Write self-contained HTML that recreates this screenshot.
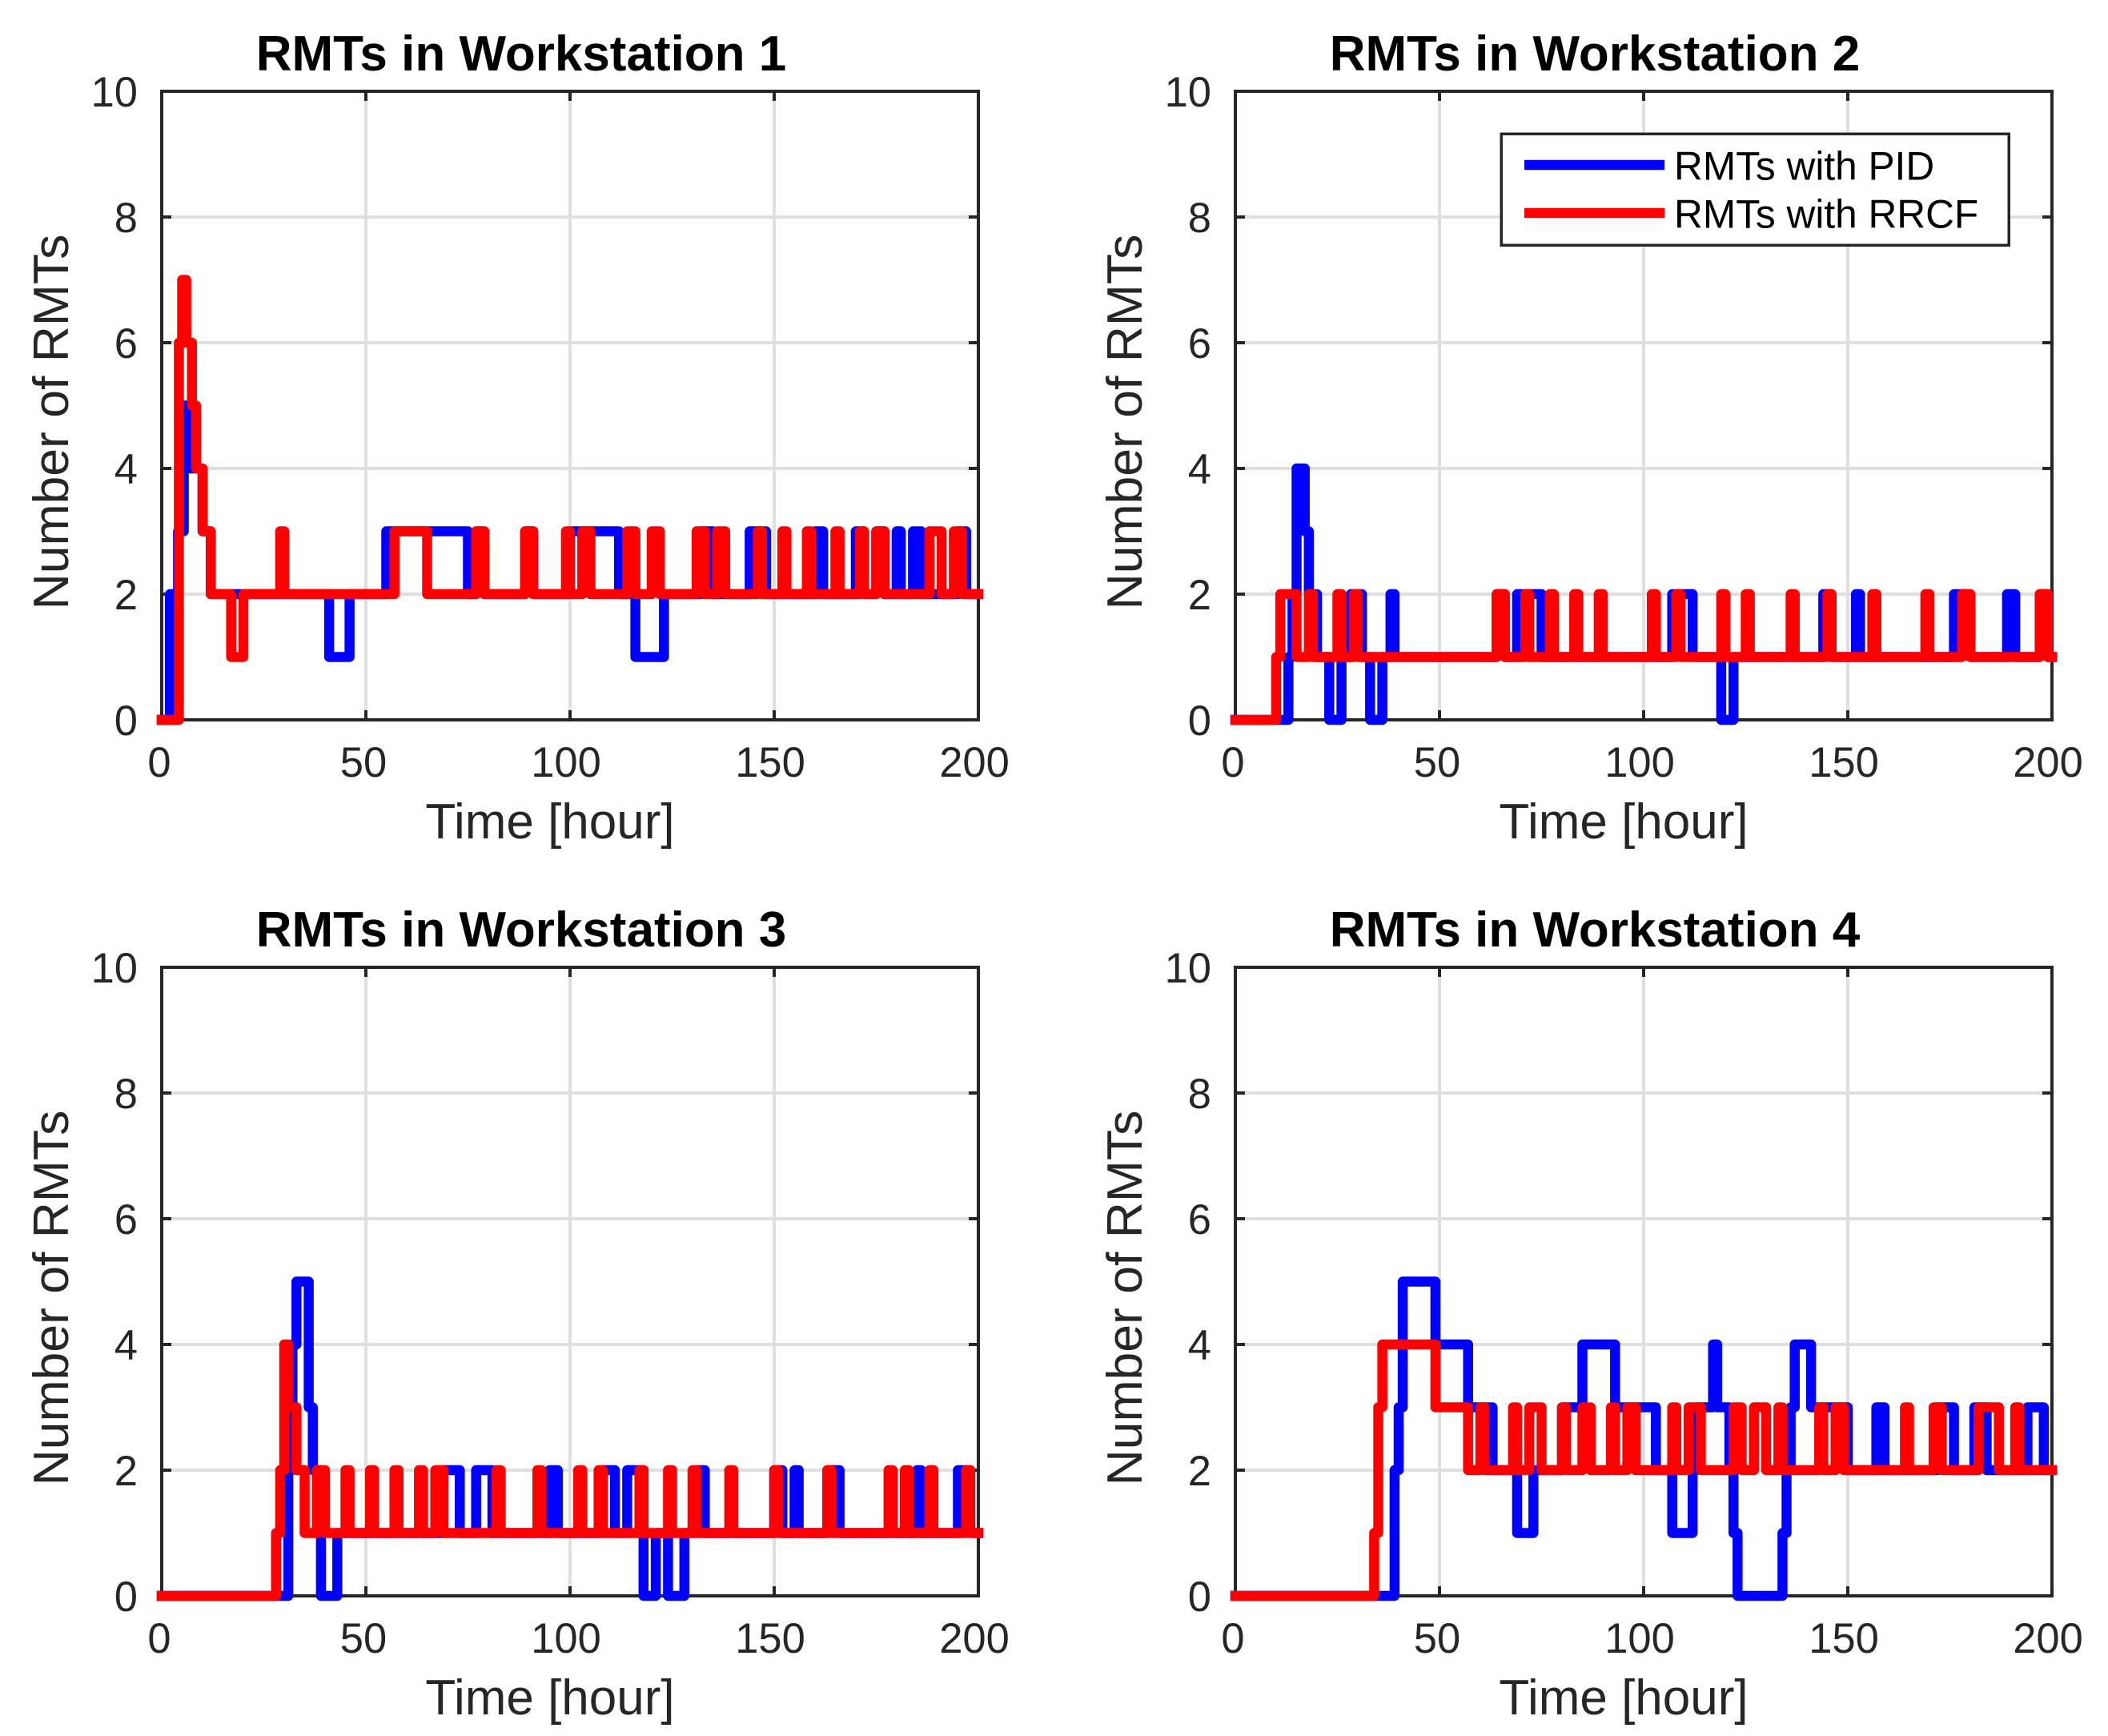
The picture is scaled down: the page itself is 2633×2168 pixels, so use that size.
<!DOCTYPE html>
<html lang="en">
<head>
<meta charset="utf-8">
<title>RMTs in Workstations</title>
<style>
html,body{margin:0;padding:0;background:#fff;}
svg{display:block;font-family:"Liberation Sans",Arial,sans-serif;}
</style>
</head>
<body>
<svg id="chart" xmlns="http://www.w3.org/2000/svg" width="2633" height="2168" viewBox="0 0 2633 2168">
<rect x="0" y="0" width="2633" height="2168" fill="#ffffff"/>
</svg>
<script>
var panelTitles = ["RMTs in Workstation 1", "RMTs in Workstation 2", "RMTs in Workstation 3", "RMTs in Workstation 4"];
var xTickValues = [0, 50, 100, 150, 200];
var yTickValues = [0, 2, 4, 6, 8, 10];
var xAxisLabel = "Time [hour]";
var yAxisLabel = "Number of RMTs";
var seriesNames = ["RMTs with PID", "RMTs with RRCF"];

var ws1PidTimes = [0,2,4,5.4,7,10,12,41,46,55,75,77,79,89,91,100,112,116,123,132,135,144,148,160,162,170,172,175,177,180,181,184,186,195,197];
var ws1PidValues = [0,2,3,5,4,3,2,1,2,3,2,3,2,3,2,3,2,1,2,3,2,3,2,3,2,3,2,3,2,3,2,3,2,3,2];
var ws1RrcfTimes = [0,4.2,5,6,7.4,8.4,10,12,17,20,29,30,57,65,77,79,89,91,99,100,103,105,114,116,120,122,131,133,136,138,146,147,152,153,158,159,165,166,171,172,175,177,188,191,194,196];
var ws1RrcfValues = [0,6,7,6,5,4,3,2,1,2,3,2,3,2,3,2,3,2,3,2,3,2,3,2,3,2,3,2,3,2,3,2,3,2,3,2,3,2,3,2,3,2,3,2,3,2];

var ws2PidTimes = [0,13,14,15,17,18,20,23,26,28.3,31,33,36,38,39,64,66,69,75,107,112,119,122,144,146,152,153,176,180,189,191,197,199];
var ws2PidValues = [0,1,2,4,3,2,1,0,1,2,1,0,1,2,1,2,1,2,1,2,1,0,1,2,1,2,1,2,1,2,1,2,1];
var ws2RrcfTimes = [0,10,11,15,18,19,25,26,29,30,64,66,71,72,77,78,83,84,89,90,102,103,108,109,119,120,125,126,136,137,145,146,156,157,169,170,178,180,197,199];
var ws2RrcfValues = [0,1,2,1,2,1,2,1,2,1,2,1,2,1,2,1,2,1,2,1,2,1,2,1,2,1,2,1,2,1,2,1,2,1,2,1,2,1,2,1];

var ws3PidTimes = [0,31,32,33,36,37,39,43,69,73,77,81,95,97,108,111,114,118,121,124,128,131,133,150,152,155,156,163,166,185,186,195,198];
var ws3PidValues = [0,2,4,5,3,2,0,1,2,1,2,1,2,1,2,1,2,0,1,0,1,2,1,2,1,2,1,2,1,2,1,2,1];
var ws3RrcfTimes = [0,28,29,30,31,33,35,38,40,45,46,51,52,57,58,63,64,67,69,82,83,92,93,102,103,107,108,117,118,124,125,130,131,139,140,150,151,163,164,178,179,182,183,188,189,197,198];
var ws3RrcfValues = [0,1,2,4,3,2,1,2,1,2,1,2,1,2,1,2,1,2,1,2,1,2,1,2,1,2,1,2,1,2,1,2,1,2,1,2,1,2,1,2,1,2,1,2,1,2,1];

var ws4PidTimes = [0,39,40,41,49,57,63,69,73,80,85,93,103,107,112,113,117,118,121,122,123,134,135,136,137,141,150,157,159,172,176,181,184,194,198];
var ws4PidValues = [0,2,3,5,4,3,2,1,2,3,4,3,2,1,2,3,4,3,2,1,0,1,2,3,4,3,2,3,2,3,2,3,2,3,2];
var ws4RrcfTimes = [0,34,35,36,49,57,60,61,68,69,72,75,80,81,85,87,92,93,96,98,107,108,111,114,122,124,127,130,133,134,143,144,147,149,164,165,171,173,182,187,191,192];
var ws4RrcfValues = [0,1,3,4,3,2,3,2,3,2,3,2,3,2,3,2,3,2,3,2,3,2,3,2,3,2,3,2,3,2,3,2,3,2,3,2,3,2,3,2,3,2];

var pidSeries = [[ws1PidTimes, ws1PidValues], [ws2PidTimes, ws2PidValues], [ws3PidTimes, ws3PidValues], [ws4PidTimes, ws4PidValues]];
var rrcfSeries = [[ws1RrcfTimes, ws1RrcfValues], [ws2RrcfTimes, ws2RrcfValues], [ws3RrcfTimes, ws3RrcfValues], [ws4RrcfTimes, ws4RrcfValues]];

var svg = document.getElementById('chart');
var NS = 'http://www.w3.org/2000/svg';
var axisColor = '#262626';
var gridColor = '#dfdfdf';
var axisW = 1020, axisH = 785, tickLen = 12;
var axisLeft = [202, 1543, 202, 1543];
var axisTop = [114, 114, 1208, 1208];

function makeEl(tag, parent, attrs) {
  var el = document.createElementNS(NS, tag);
  for (var k in attrs) { el.setAttribute(k, attrs[k]); }
  parent.appendChild(el);
  return el;
}
function xScale(p, v) { return axisLeft[p] + v / 200 * axisW; }
function yScale(p, v) { return axisTop[p] + axisH - v / 10 * axisH; }
function seriesPath(p, times, values) {
  var d = 'M' + xScale(p, times[0]) + ' ' + yScale(p, values[0]);
  for (var i = 1; i < times.length; i++) {
    d += 'L' + xScale(p, times[i]) + ' ' + yScale(p, values[i - 1]);
    d += 'L' + xScale(p, times[i]) + ' ' + yScale(p, values[i]);
  }
  d += 'L' + xScale(p, 200) + ' ' + yScale(p, values[values.length - 1]);
  return d;
}

function drawPanel(p) {
  var g = makeEl('g', svg, {});
  
  
  var L = axisLeft[p], T = axisTop[p], R = L + axisW, B = T + axisH;

  xTickValues.forEach(function (v) {
    var x = xScale(p, v);
    if (v > 0 && v < 200) {
      var gl = makeEl('line', g, {x1: x, x2: x, y1: T, y2: B, stroke: gridColor, 'stroke-width': 4, 'shape-rendering': 'crispEdges'});
      
      
    }
  });
  yTickValues.forEach(function (v) {
    var y = yScale(p, v);
    if (v > 0 && v < 10) {
      var gl = makeEl('line', g, {x1: L, x2: R, y1: y, y2: y, stroke: gridColor, 'stroke-width': 4, 'shape-rendering': 'crispEdges'});
      
      
    }
  });
  xTickValues.forEach(function (v) {
    var x = xScale(p, v);
    var t1 = makeEl('line', g, {x1: x, x2: x, y1: B, y2: B - tickLen, stroke: axisColor, 'stroke-width': 4, 'shape-rendering': 'crispEdges'});
    
    
    var t2 = makeEl('line', g, {x1: x, x2: x, y1: T, y2: T + tickLen, stroke: axisColor, 'stroke-width': 4, 'shape-rendering': 'crispEdges'});
    
    
    var lab = makeEl('text', g, {x: x - (v >= 100 ? 5 : 3), y: B + 71, 'text-anchor': 'middle', 'font-size': 52.5, fill: axisColor});
    
    
    lab.textContent = String(v);
  });
  yTickValues.forEach(function (v) {
    var y = yScale(p, v);
    var t1 = makeEl('line', g, {x1: L, x2: L + tickLen, y1: y, y2: y, stroke: axisColor, 'stroke-width': 4, 'shape-rendering': 'crispEdges'});
    
    
    var t2 = makeEl('line', g, {x1: R, x2: R - tickLen, y1: y, y2: y, stroke: axisColor, 'stroke-width': 4, 'shape-rendering': 'crispEdges'});
    
    
    var lab = makeEl('text', g, {x: L - 30, y: y + 19, 'text-anchor': 'end', 'font-size': 52.5, fill: axisColor});
    
    
    lab.textContent = String(v);
  });

  var box = makeEl('rect', g, {x: L, y: T, width: axisW, height: axisH, fill: 'none', stroke: axisColor, 'stroke-width': 4, 'shape-rendering': 'crispEdges'});
  
  

  var pid = makeEl('path', g, {d: seriesPath(p, pidSeries[p][0], pidSeries[p][1]), fill: 'none', stroke: '#0000ff', 'stroke-width': 12.5, 'stroke-linejoin': 'round', 'stroke-linecap': 'square'});
  
  
  var rrcf = makeEl('path', g, {d: seriesPath(p, rrcfSeries[p][0], rrcfSeries[p][1]), fill: 'none', stroke: '#ff0000', 'stroke-width': 12.5, 'stroke-linejoin': 'round', 'stroke-linecap': 'square'});
  
  

  var title = makeEl('text', g, {x: L + 449, y: T - 26, 'text-anchor': 'middle', 'font-size': 62, 'font-weight': 'bold', fill: '#000000'});
  
  
  title.textContent = panelTitles[p];

  var xl = makeEl('text', g, {x: L + 485, y: B + 148, 'text-anchor': 'middle', 'font-size': 62, fill: axisColor});
  
  
  xl.textContent = xAxisLabel;

  var yl = makeEl('text', g, {x: 0, y: 0, 'text-anchor': 'middle', 'font-size': 62.5, fill: axisColor, transform: 'translate(' + (L - 117) + ' ' + (T + 413) + ') rotate(-90)'});
  
  
  yl.textContent = yAxisLabel;
}

function drawLegend() {
  var g = makeEl('g', svg, {});
  
  
  var frame = makeEl('rect', g, {x: 1875, y: 167, width: 634, height: 139, fill: '#ffffff', stroke: axisColor, 'stroke-width': 3.5, 'shape-rendering': 'crispEdges'});
  
  
  var colors = ['#0000ff', '#ff0000'];
  var rowY = [206, 266];
  seriesNames.forEach(function (name, i) {
    var sample = makeEl('line', g, {x1: 1904, x2: 2079, y1: rowY[i], y2: rowY[i], stroke: colors[i], 'stroke-width': 12.5});
    
    
    var label = makeEl('text', g, {x: 2091, y: rowY[i] + 18.5, 'font-size': 49.6, fill: '#000000'});
    
    
    label.textContent = name;
  });
}

for (var p = 0; p < 4; p++) { drawPanel(p); }
drawLegend();
</script>
</body>
</html>
